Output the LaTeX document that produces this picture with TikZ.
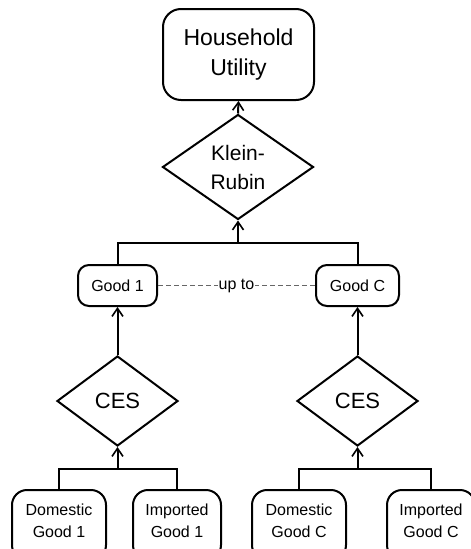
\documentclass[tikz,border=0pt]{standalone}
\usepackage{fontspec}
\setmainfont{Liberation Sans}
\usepackage{xcolor}
\usetikzlibrary{shapes.geometric,arrows.meta}

\begin{document}
\begin{tikzpicture}[x=1pt,y=-1pt,
  line width=2pt,
  box/.style={draw,rounded corners=11pt,inner sep=0pt,align=center,line width=2pt},
  dia/.style={draw,diamond,inner sep=0pt,align=center,line width=2pt},
  arr/.style={-{Straight Barb[length=8pt,width=11pt,line width=1.6pt]}}]
\useasboundingbox (0,0) rectangle (471,549);
\clip (0,0) rectangle (471,549);
% Top level
\node[box,rounded corners=18pt,minimum width=151pt,minimum height=91pt,
  font=\fontsize{23}{30}\selectfont] (hu) at (238.5,54.5) {Household\\Utility};
\node[dia,minimum width=151pt,minimum height=105pt,
  font=\fontsize{21}{29}\selectfont] (kr) at (238,167) {Klein-\\Rubin};
% Goods
\node[box,minimum width=79pt,minimum height=41pt,font=\fontsize{16}{20}\selectfont] (g1) at (117.5,285.5) {Good 1};
\node[box,minimum width=83pt,minimum height=41pt,font=\fontsize{16}{20}\selectfont] (gC) at (357.5,285.5) {Good C};
% CES nests
\node[dia,minimum width=121pt,minimum height=90pt,font=\fontsize{22}{26}\selectfont] (ces1) at (117.5,401) {CES};
\node[dia,minimum width=121pt,minimum height=90pt,font=\fontsize{22}{26}\selectfont] (cesC) at (357.5,401) {CES};
% Domestic and imported goods
\foreach \nm/\x/\w/\txt in
  {d1/59/94/{Domestic\\Good 1}, i1/177/88/{Imported\\Good 1},
   dC/299/94/{Domestic\\Good C}, iC/431/88/{Imported\\Good C}}
  \node[box,rounded corners=15pt,minimum width=\w pt,minimum height=70pt,
    font=\fontsize{16}{22}\selectfont] (\nm) at (\x,525) {\txt\\[-13pt]};
% Joins
\coordinate (topjoin) at (238,243);
\coordinate (join1) at (117.5,469);
\coordinate (joinC) at (357.5,469);
% Connectors
\draw[arr] (kr.north) -- (hu.south);
\draw (g1.north) |- (gC.north |- topjoin) -- (gC.north);
\draw[arr] (topjoin) -- (kr.south);
\draw[arr] (ces1.north) -- (g1.south);
\draw[arr] (cesC.north) -- (gC.south);
\draw (d1.north) |- (i1.north |- join1) -- (i1.north);
\draw (dC.north) |- (iC.north |- joinC) -- (iC.north);
\draw[arr] (join1) -- (ces1.south);
\draw[arr] (joinC) -- (cesC.south);
% Dashed link
\draw[gray!80!black,line width=1pt,dash pattern=on 5pt off 3pt] (g1.east) --
  node[fill=white,text=black,inner sep=1pt,font=\fontsize{16}{20}\selectfont] {up to} (gC.west);
\end{tikzpicture}
\end{document}
